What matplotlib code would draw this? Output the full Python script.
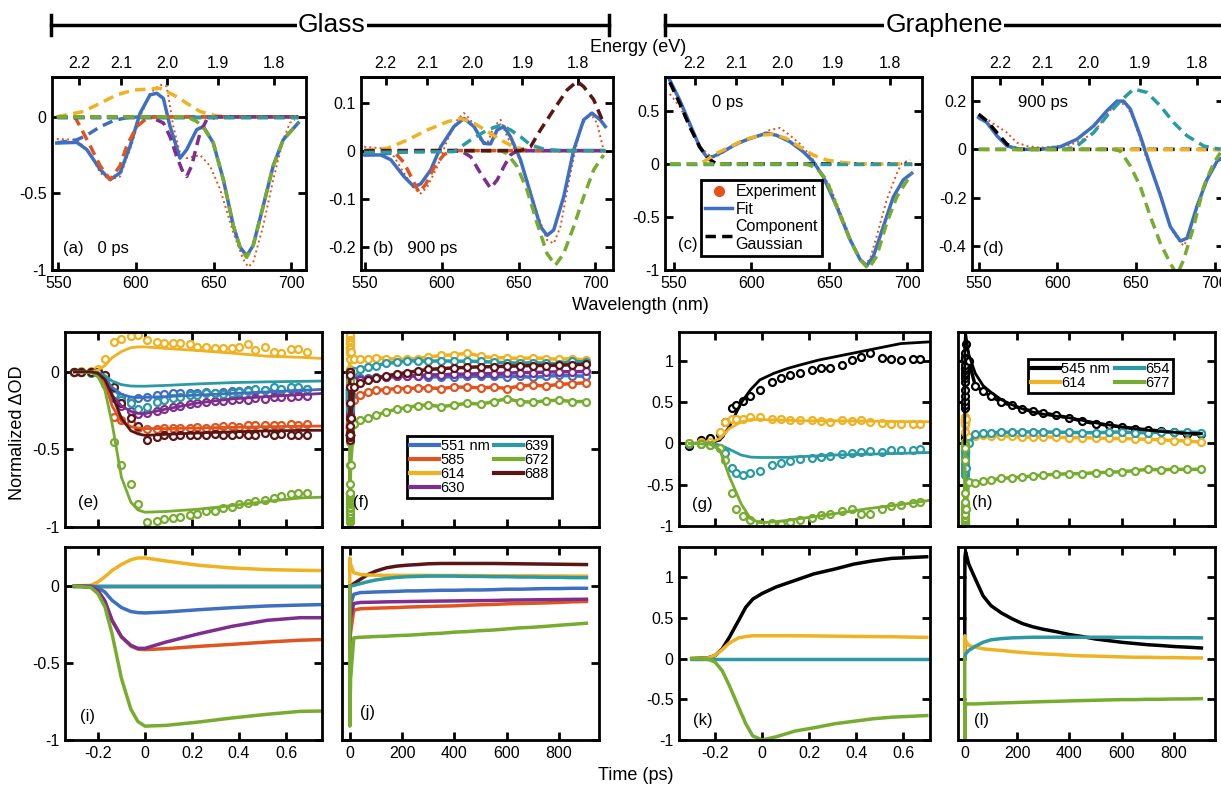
import numpy as np
import matplotlib
matplotlib.use("Agg")
import matplotlib.pyplot as plt
from matplotlib.ticker import FuncFormatter

plt.rcParams['font.family'] = ['Liberation Sans', 'DejaVu Sans']
plt.rcParams['axes.unicode_minus'] = False

W, H = 1221, 785

COL = {"545": "black", "551": "#3F6FC1", "585": "#DF5520", "614": "#EEB223",
       "630": "#7E2F8E", "639": "#2B9AA3", "654": "#2B9AA3", "672": "#77AC30",
       "677": "#77AC30", "688": "#5A1515"}
EXP_COL = "#E8501A"
FIT_COL = "#3F6FC1"

##################################### spectra (top row) #####################################

a_exp_wl = [549.1, 562.0, 570.6, 577.0, 583.4, 589.8, 596.3, 602.7, 609.1, 615.6, 619.8, 624.1, 628.4,
            632.7, 641.3, 647.7, 654.1, 662.7, 669.1, 672.3, 675.5, 682.0, 688.4, 694.8, 699.1, 702.3]
a_exp = [-0.145, -0.15, -0.236, -0.366, -0.41, -0.39, -0.21, 0.0, 0.154, 0.21, 0.2, -0.063, -0.236,
         -0.27, -0.25, -0.32, -0.47, -0.755, -0.93, -0.98, -0.95, -0.71, -0.41, -0.15, -0.04, -0.02]
a_fit_wl = [549.1, 562.0, 568.4, 577.0, 583.4, 589.8, 596.3, 602.7, 609.1, 613.4, 617.7, 622.0, 628.4,
            632.7, 639.1, 643.4, 649.8, 656.3, 662.7, 667.0, 671.3, 675.5, 682.0, 688.4, 694.8, 704.5]
a_fit = [-0.171, -0.167, -0.214, -0.344, -0.41, -0.366, -0.19, 0.024, 0.143, 0.154, 0.12, -0.063, -0.27,
         -0.214, -0.084, -0.063, -0.17, -0.41, -0.71, -0.85, -0.907, -0.84, -0.58, -0.32, -0.15, -0.04]
a_gauss = {
    "551": ([549.1, 562.0, 568.4, 577.0, 585.6, 594.1, 602.7, 704.5],
            [-0.17, -0.15, -0.12, -0.065, -0.025, -0.005, 0, 0]),
    "585": ([549.1, 560.9, 564.1, 570.6, 577.0, 583.4, 589.8, 594.1, 600.6, 607.0, 613.4, 704.5],
            [0, -0.005, -0.063, -0.19, -0.32, -0.41, -0.32, -0.19, -0.063, -0.01, 0, 0]),
    "614": ([549.1, 566.3, 577.0, 587.7, 598.4, 615.6, 626.3, 632.7, 641.3, 652.0, 662.7, 704.5],
            [0, 0.035, 0.089, 0.143, 0.175, 0.186, 0.132, 0.089, 0.035, 0.006, 0, 0]),
    "630": ([549.1, 609.1, 617.7, 622.0, 626.3, 630.5, 632.7, 635.9, 639.1, 641.3, 645.5, 652.0, 704.5],
            [0, 0, -0.04, -0.13, -0.26, -0.366, -0.39, -0.32, -0.19, -0.106, -0.02, 0, 0]),
    "688": ([549.1, 704.5], [0, 0]),
    "639": ([549.1, 704.5], [0, 0]),
    "672": ([549.1, 632.7, 639.1, 643.4, 649.8, 656.3, 662.7, 667.0, 671.3, 675.5, 682.0, 688.4, 694.8, 704.5],
            [0, 0, -0.03, -0.067, -0.17, -0.41, -0.71, -0.85, -0.918, -0.84, -0.58, -0.32, -0.15, -0.04]),
}

b_exp_wl = [549.6, 560.4, 569.0, 575.5, 582.0, 586.4, 590.7, 597.2, 603.7, 610.2, 614.5, 618.8, 625.3, 629.7,
            634.0, 638.3, 642.6, 649.1, 655.6, 662.1, 668.6, 672.9, 677.3, 683.8, 690.3, 696.8, 701.1, 705.4]
b_exp = [0.008, 0.005, -0.0125, -0.047, -0.078, -0.089, -0.075, -0.033, 0.022, 0.064, 0.078, 0.064, 0.022, 0.015,
         0.05, 0.064, 0.029, -0.006, -0.061, -0.13, -0.186, -0.193, -0.158, -0.047, 0.05, 0.078, 0.057, 0.001]
b_fit_wl = [549.6, 560.4, 566.9, 575.5, 582.0, 586.4, 592.9, 599.4, 608.0, 614.5, 621.0, 627.5, 631.8, 636.1,
            640.5, 644.8, 651.3, 657.8, 664.3, 668.6, 672.9, 679.4, 685.9, 692.4, 697.8, 703.2, 706.5]
b_fit = [-0.009, -0.009, -0.019, -0.054, -0.075, -0.069, -0.04, 0.008, 0.05, 0.067, 0.05, 0.015, 0.014, 0.043,
         0.05, 0.029, -0.019, -0.089, -0.158, -0.176, -0.165, -0.096, 0.001, 0.064, 0.078, 0.064, 0.05]
b_gauss = {
    "551": ([549.6, 564.7, 575.5, 586.4, 706.5], [-0.009, -0.006, -0.003, 0, 0]),
    "614": ([549.6, 564.7, 577.7, 590.7, 603.7, 612.3, 621.0, 629.7, 638.3, 647.0, 655.6, 672.9, 706.5],
            [0, 0.005, 0.022, 0.043, 0.06, 0.067, 0.057, 0.04, 0.022, 0.008, 0.001, 0, 0]),
    "585": ([549.6, 569.0, 575.5, 581.0, 585.3, 589.6, 595.0, 601.5, 608.0, 706.5],
            [0, -0.002, -0.025, -0.06, -0.087, -0.07, -0.035, -0.008, 0, 0]),
    "630": ([549.6, 612.3, 618.8, 625.3, 631.8, 636.1, 640.5, 644.8, 649.1, 706.5],
            [0, 0, -0.0125, -0.047, -0.078, -0.061, -0.033, -0.009, 0, 0]),
    "672": ([549.6, 638.3, 642.6, 649.1, 655.6, 662.1, 668.6, 674.0, 679.4, 685.9, 692.4, 698.9, 705.4],
            [0, 0, -0.006, -0.033, -0.082, -0.151, -0.214, -0.238, -0.214, -0.158, -0.096, -0.04, -0.009]),
    "688": ([549.6, 651.3, 657.8, 664.3, 672.9, 681.6, 688.1, 692.4, 698.9, 705.4],
            [0, 0, 0.008, 0.043, 0.085, 0.126, 0.144, 0.133, 0.106, 0.057]),
    "639": ([549.6, 608.0, 618.8, 629.7, 638.3, 644.8, 651.3, 657.8, 666.5, 677.3, 706.5],
            [-0.004, -0.002, 0.022, 0.043, 0.053, 0.043, 0.029, 0.012, 0.003, 0, 0]),
}

c_exp_wl = [547.6, 554.0, 560.4, 566.8, 573.3, 577.5, 586.1, 594.7, 605.4, 611.8, 618.3, 624.7, 631.1,
            637.5, 643.9, 650.4, 659.0, 665.4, 671.8, 676.1, 680.4, 686.8, 693.3, 696.5, 701.8]
c_exp = [0.66, 0.54, 0.35, 0.16, 0.08, 0.07, 0.147, 0.21, 0.27, 0.32, 0.34, 0.27, 0.19,
         0.084, -0.056, -0.21, -0.525, -0.775, -0.95, -0.9, -0.68, -0.34, -0.09, 0.006, 0.04]
c_fit_wl = [547.6, 554.0, 560.4, 566.8, 571.1, 575.4, 581.8, 590.4, 599.0, 609.7, 616.1, 624.7, 633.2,
            639.7, 646.1, 654.7, 663.2, 669.7, 674.0, 678.3, 684.7, 691.1, 697.5, 702.9]
c_fit = [0.79, 0.6, 0.38, 0.16, 0.069, 0.069, 0.116, 0.19, 0.24, 0.29, 0.27, 0.21, 0.116,
         0.022, -0.12, -0.4, -0.71, -0.9, -0.96, -0.87, -0.59, -0.31, -0.15, -0.088]
c_gauss = {
    "545": ([547.6, 554.0, 560.4, 566.8, 572.2, 577.5, 702.9], [0.77, 0.57, 0.35, 0.16, 0.053, 0, 0]),
    "614": ([547.6, 566.8, 571.1, 577.5, 586.1, 594.7, 605.4, 614.0, 622.5, 631.1, 639.7, 648.2, 659.0, 671.8, 702.9],
            [0, 0, 0.0375, 0.1, 0.16, 0.225, 0.27, 0.28, 0.24, 0.16, 0.084, 0.0375, 0.0125, 0, 0]),
    "654": ([547.6, 702.9], [0, 0]),
    "677": ([547.6, 635.4, 641.8, 648.2, 654.7, 663.2, 669.7, 675.1, 680.4, 686.8, 693.3, 702.9],
            [0, 0, -0.04, -0.15, -0.4, -0.71, -0.9, -0.99, -0.87, -0.56, -0.31, -0.088]),
}

d_exp_wl = [549.8, 555.1, 561.5, 567.9, 574.2, 580.6, 589.1, 597.6, 606.1, 614.5, 623.0, 629.4, 635.8, 640.0,
            644.2, 648.5, 652.7, 657.0, 661.2, 665.5, 669.7, 674.0, 680.3, 682.5, 688.8, 695.2, 701.6]
d_exp = [0.125, 0.125, 0.097, 0.069, 0.028, 0.014, 0.007, 0.011, 0.014, 0.035, 0.069, 0.125, 0.18, 0.194,
         0.18, 0.125, 0.042, -0.042, -0.11, -0.18, -0.28, -0.35, -0.4, -0.375, -0.236, -0.125, -0.056]
d_fit_wl = [549.8, 555.1, 561.5, 567.9, 576.4, 589.1, 601.8, 612.4, 623.0, 631.5, 637.9, 642.1, 646.4, 652.7,
            659.1, 665.5, 671.8, 678.2, 682.5, 688.8, 695.2, 701.6, 704.8]
d_fit = [0.132, 0.111, 0.056, 0.014, 0, 0, 0.011, 0.042, 0.097, 0.16, 0.2, 0.2, 0.167, 0.056,
         -0.069, -0.19, -0.32, -0.38, -0.368, -0.236, -0.125, -0.049, -0.035]
d_gauss = {
    "545": ([549.8, 555.1, 561.5, 567.9, 574.2, 704.8], [0.146, 0.118, 0.069, 0.021, 0, 0]),
    "614": ([549.8, 704.8], [0, 0]),
    "654": ([549.8, 606.1, 612.4, 623.0, 631.5, 640.0, 648.5, 657.0, 665.5, 674.0, 682.5, 693.1, 703.7],
            [0, 0, 0.014, 0.069, 0.139, 0.2, 0.25, 0.236, 0.18, 0.111, 0.056, 0.014, 0]),
    "677": ([549.8, 635.8, 640.0, 646.4, 652.7, 659.1, 665.5, 671.8, 676.1, 680.3, 686.7, 693.1, 699.5, 703.7],
            [0, 0, -0.007, -0.069, -0.153, -0.278, -0.389, -0.472, -0.52, -0.458, -0.32, -0.153, -0.056, -0.014]),
}

##################################### kinetics #####################################

# glass, early times
t_gs = [-0.30, -0.27, -0.23, -0.20, -0.17, -0.13, -0.10, -0.06, -0.03, 0.01, 0.05, 0.08, 0.12, 0.15, 0.19,
        0.22, 0.26, 0.30, 0.33, 0.37, 0.40, 0.44, 0.47, 0.51, 0.55, 0.58, 0.62, 0.65, 0.69]
e_scat = {
    "551": [0, 0, 0, 0, -0.03, -0.14, -0.16, -0.18, -0.17, -0.16, -0.15, -0.145, -0.14, -0.14, -0.14, -0.135,
            -0.13, -0.135, -0.13, -0.125, -0.125, -0.12, -0.125, -0.12, -0.115, -0.12, -0.11, -0.115, -0.11],
    "585": [0, 0, 0, -0.01, -0.08, -0.29, -0.31, -0.33, -0.36, -0.37, -0.37, -0.365, -0.36, -0.36, -0.36, -0.355,
            -0.36, -0.355, -0.35, -0.35, -0.355, -0.345, -0.34, -0.345, -0.34, -0.345, -0.335, -0.34, -0.335],
    "614": [0, 0.005, 0.005, 0.02, 0.08, 0.19, 0.21, 0.23, 0.235, 0.205, 0.19, 0.185, 0.185, 0.185, 0.18, 0.16,
            0.16, 0.15, 0.15, 0.155, 0.16, 0.18, 0.14, 0.16, 0.13, 0.12, 0.145, 0.145, 0.13],
    "630": [0, 0, 0, 0, -0.04, -0.17, -0.22, -0.25, -0.27, -0.265, -0.25, -0.24, -0.23, -0.22, -0.21, -0.2,
            -0.195, -0.19, -0.19, -0.18, -0.175, -0.18, -0.17, -0.175, -0.165, -0.16, -0.16, -0.155, -0.155],
    "639": [0, 0, -0.005, 0, -0.03, -0.15, -0.18, -0.2, -0.237, -0.226, -0.194, -0.183, -0.172, -0.162, -0.151,
            -0.151, -0.14, -0.14, -0.144, -0.136, -0.13, -0.123, -0.114, -0.118, -0.101, -0.114, -0.101, -0.101, -0.108],
    "672": [0, 0, 0, 0, -0.06, -0.45, -0.6, -0.72, -0.85, -0.97, -0.96, -0.95, -0.94, -0.935, -0.925, -0.915,
            -0.9, -0.895, -0.875, -0.87, -0.855, -0.845, -0.83, -0.825, -0.81, -0.8, -0.79, -0.78, -0.78],
    "688": [0, 0, 0, 0, -0.02, -0.1, -0.2, -0.3, -0.35, -0.44, -0.42, -0.41, -0.415, -0.41, -0.41, -0.405,
            -0.41, -0.4, -0.41, -0.405, -0.4, -0.405, -0.41, -0.395, -0.41, -0.4, -0.41, -0.41, -0.41],
}
t_gf = [-0.30, -0.23, -0.20, -0.17, -0.14, -0.10, -0.06, -0.03, 0.0, 0.09, 0.23, 0.37, 0.52, 0.66, 0.75]
e_fit = {
    "551": [0, 0, -0.005, -0.04, -0.1, -0.145, -0.163, -0.166, -0.165, -0.16, -0.15, -0.14, -0.13, -0.12, -0.114],
    "585": [0, 0, -0.015, -0.07, -0.22, -0.32, -0.355, -0.362, -0.366, -0.366, -0.362, -0.358, -0.354, -0.351, -0.35],
    "614": [0, 0, 0.01, 0.04, 0.09, 0.13, 0.155, 0.16, 0.16, 0.15, 0.136, 0.12, 0.1, 0.093, 0.086],
    "630": [0, 0, -0.01, -0.05, -0.15, -0.22, -0.255, -0.268, -0.27, -0.24, -0.2, -0.175, -0.16, -0.148, -0.14],
    "639": [0, 0, -0.005, -0.025, -0.06, -0.083, -0.092, -0.093, -0.093, -0.088, -0.078, -0.07, -0.065, -0.062, -0.06],
    "672": [0, -0.005, -0.03, -0.12, -0.33, -0.68, -0.84, -0.89, -0.905, -0.9, -0.885, -0.862, -0.835, -0.813, -0.808],
    "688": [0, 0, -0.01, -0.05, -0.15, -0.3, -0.38, -0.4, -0.41, -0.403, -0.394, -0.387, -0.381, -0.378, -0.377],
}
i_comp = {
    "688": [0, 0, 0, 0, 0, 0, 0, 0, 0, 0, 0, 0, 0, 0, 0],
    "614": [0, 0.004, 0.026, 0.06, 0.1, 0.14, 0.17, 0.182, 0.182, 0.162, 0.134, 0.117, 0.106, 0.102, 0.1],
    "639": [0, 0, 0, 0, 0, 0, 0, 0, 0, 0, 0, 0, 0, 0, 0],
    "551": [0, 0, -0.01, -0.04, -0.093, -0.14, -0.166, -0.173, -0.175, -0.169, -0.154, -0.141, -0.13, -0.124, -0.121],
    "585": [0, -0.005, -0.03, -0.1, -0.223, -0.33, -0.39, -0.41, -0.413, -0.407, -0.392, -0.379, -0.364, -0.352, -0.348],
    "630": [0, -0.005, -0.03, -0.1, -0.223, -0.33, -0.385, -0.405, -0.405, -0.364, -0.31, -0.262, -0.223, -0.206, -0.206],
    "672": [0, -0.01, -0.05, -0.136, -0.31, -0.6, -0.8, -0.88, -0.91, -0.905, -0.883, -0.857, -0.833, -0.814, -0.812],
}

# glass + graphene, long times
t_ss = [3, 15, 40, 70, 100, 140, 180, 220, 260, 300, 350, 400, 450, 500, 550, 600, 650, 700, 750, 800, 850, 905]
f_scat = {
    "551": [-0.1, -0.048, -0.042, -0.038, -0.033, -0.033, -0.029, -0.026, -0.03, -0.033, -0.033, -0.033, -0.029,
            -0.029, -0.029, -0.033, -0.029, -0.037, -0.029, -0.024, -0.026, -0.029],
    "585": [-0.3, -0.18, -0.148, -0.13, -0.12, -0.115, -0.108, -0.108, -0.104, -0.104, -0.108, -0.099, -0.099,
            -0.104, -0.099, -0.108, -0.092, -0.086, -0.092, -0.081, -0.077, -0.07],
    "614": [0.13, 0.085, 0.08, 0.085, 0.09, 0.085, 0.08, 0.08, 0.085, 0.095, 0.105, 0.11, 0.12, 0.1, 0.09, 0.09,
            0.085, 0.09, 0.085, 0.08, 0.085, 0.075],
    "630": [-0.15, -0.06, -0.05, -0.045, -0.04, -0.035, -0.03, -0.028, -0.025, -0.02, -0.02, -0.016, -0.016,
            -0.012, -0.012, -0.01, -0.005, -0.005, -0.003, 0, 0, 0.002],
    "639": [-0.15, 0.005, 0.015, 0.03, 0.04, 0.055, 0.06, 0.07, 0.07, 0.068, 0.07, 0.068, 0.068, 0.066, 0.062,
            0.058, 0.055, 0.058, 0.055, 0.05, 0.068, 0.062],
    "672": [-0.6, -0.335, -0.313, -0.297, -0.28, -0.258, -0.24, -0.231, -0.218, -0.214, -0.225, -0.214, -0.203,
            -0.209, -0.192, -0.174, -0.192, -0.196, -0.187, -0.183, -0.192, -0.192],
    "688": [-0.3, -0.1, -0.07, -0.055, -0.042, -0.026, -0.015, -0.005, 0.005, 0.015, 0.02, 0.025, 0.028, 0.032,
            0.033, 0.035, 0.038, 0.04, 0.04, 0.042, 0.045, 0.048],
}
j_comp = {
    "688": [0.004, 0.015, 0.043, 0.075, 0.097, 0.118, 0.129, 0.135, 0.139, 0.144, 0.146, 0.146, 0.146, 0.146,
            0.146, 0.145, 0.144, 0.143, 0.142, 0.141, 0.14, 0.139],
    "614": [0.14, 0.086, 0.075, 0.071, 0.07, 0.069, 0.069, 0.069, 0.069, 0.069, 0.068, 0.068, 0.068, 0.067,
            0.067, 0.066, 0.066, 0.066, 0.065, 0.065, 0.064, 0.064],
    "639": [0.0, 0.004, 0.015, 0.028, 0.039, 0.049, 0.056, 0.06, 0.062, 0.064, 0.064, 0.064, 0.062, 0.062,
            0.06, 0.06, 0.058, 0.058, 0.056, 0.056, 0.054, 0.054],
    "551": [-0.12, -0.054, -0.043, -0.041, -0.039, -0.037, -0.035, -0.032, -0.032, -0.03, -0.028, -0.028,
            -0.026, -0.026, -0.024, -0.021, -0.021, -0.019, -0.017, -0.017, -0.015, -0.015],
    "585": [-0.3, -0.157, -0.148, -0.146, -0.144, -0.142, -0.14, -0.137, -0.135, -0.133, -0.131, -0.129, -0.125,
            -0.122, -0.12, -0.116, -0.114, -0.112, -0.11, -0.107, -0.103, -0.101],
    "630": [-0.2, -0.114, -0.107, -0.106, -0.105, -0.103, -0.102, -0.101, -0.1, -0.099, -0.098, -0.097, -0.096,
            -0.095, -0.094, -0.092, -0.091, -0.09, -0.089, -0.088, -0.087, -0.086],
    "672": [-0.6, -0.337, -0.333, -0.331, -0.328, -0.326, -0.322, -0.32, -0.316, -0.311, -0.307, -0.3, -0.296,
            -0.29, -0.286, -0.279, -0.272, -0.268, -0.262, -0.255, -0.249, -0.242],
}

# graphene, early times
t_grs = [-0.31, -0.26, -0.22, -0.18, -0.16, -0.13, -0.11, -0.08, -0.05, -0.01, 0.04, 0.08, 0.12, 0.16, 0.21,
         0.25, 0.29, 0.34, 0.38, 0.42, 0.46, 0.51, 0.55, 0.59, 0.64, 0.67]
g_scat = {
    "545": [-0.03, 0.04, 0.06, 0.12, 0.26, 0.43, 0.47, 0.51, 0.57, 0.65, 0.75, 0.79, 0.83, 0.85, 0.89, 0.91,
            0.91, 0.95, 1.01, 1.05, 1.09, 1.03, 1.02, 1.01, 1.02, 1.02],
    "614": [0, 0.02, 0.02, 0.14, 0.26, 0.3, 0.3, 0.3, 0.32, 0.32, 0.3, 0.3, 0.29, 0.28, 0.28, 0.27, 0.26, 0.28,
            0.27, 0.28, 0.26, 0.25, 0.24, 0.24, 0.24, 0.235],
    "654": [-0.01, -0.01, -0.02, -0.06, -0.12, -0.3, -0.36, -0.38, -0.36, -0.33, -0.26, -0.24, -0.21, -0.19,
            -0.18, -0.16, -0.15, -0.13, -0.12, -0.1, -0.09, -0.1, -0.085, -0.08, -0.075, -0.07],
    "677": [0, -0.01, -0.02, -0.06, -0.2, -0.6, -0.8, -0.88, -0.93, -0.97, -0.96, -0.97, -0.95, -0.93, -0.9,
            -0.87, -0.85, -0.82, -0.8, -0.85, -0.85, -0.79, -0.76, -0.74, -0.72, -0.71],
}
t_grf = [-0.31, -0.22, -0.18, -0.14, -0.09, -0.05, -0.01, 0.05, 0.11, 0.16, 0.24, 0.31, 0.38, 0.45, 0.52, 0.59, 0.71]
g_fit = {
    "545": [0, 0.01, 0.04, 0.2, 0.49, 0.65, 0.77, 0.85, 0.91, 0.95, 1.01, 1.05, 1.09, 1.13, 1.17, 1.21, 1.23],
    "614": [0, 0.01, 0.06, 0.18, 0.26, 0.29, 0.29, 0.285, 0.28, 0.275, 0.275, 0.275, 0.272, 0.27, 0.268, 0.265, 0.263],
    "654": [0, 0, -0.02, -0.07, -0.14, -0.165, -0.17, -0.17, -0.168, -0.16, -0.15, -0.14, -0.135, -0.13, -0.125, -0.12, -0.11],
    "677": [0, -0.01, -0.08, -0.4, -0.73, -0.91, -0.96, -0.95, -0.93, -0.91, -0.88, -0.85, -0.82, -0.79, -0.765, -0.74, -0.69],
}
t_grc = [-0.30, -0.23, -0.20, -0.17, -0.14, -0.10, -0.07, -0.04, 0.0, 0.06, 0.14, 0.22, 0.31, 0.39, 0.47, 0.55, 0.70]
k_comp = {
    "545": [0, 0.01, 0.037, 0.12, 0.26, 0.47, 0.63, 0.73, 0.8, 0.88, 0.96, 1.04, 1.1, 1.16, 1.2, 1.23, 1.25],
    "614": [0, 0.008, 0.04, 0.11, 0.19, 0.255, 0.27, 0.28, 0.28, 0.28, 0.28, 0.278, 0.275, 0.272, 0.27, 0.268, 0.26],
    "654": [0, 0, 0, 0, 0, 0, 0, 0, 0, 0, 0, 0, 0, 0, 0, 0, 0],
    "677": [0, -0.008, -0.045, -0.15, -0.33, -0.6, -0.8, -0.95, -1.0, -0.96, -0.89, -0.85, -0.8, -0.77, -0.74, -0.72, -0.7],
}
h_scat = {
    "545": [1.2, 1.0, 0.7, 0.63, 0.57, 0.5, 0.46, 0.42, 0.39, 0.37, 0.34, 0.31, 0.27, 0.24, 0.22, 0.2, 0.18,
            0.165, 0.15, 0.135, 0.12, 0.11],
    "614": [0.3, 0.08, 0.09, 0.1, 0.095, 0.09, 0.085, 0.08, 0.075, 0.08, 0.075, 0.07, 0.07, 0.065, 0.06, 0.06,
            0.055, 0.05, 0.045, 0.035, 0.03, 0.015],
    "654": [-0.3, 0.0, 0.11, 0.125, 0.13, 0.135, 0.135, 0.14, 0.14, 0.14, 0.135, 0.135, 0.13, 0.13, 0.135, 0.14,
            0.13, 0.13, 0.135, 0.135, 0.14, 0.13],
    "677": [-0.8, -0.47, -0.475, -0.455, -0.443, -0.423, -0.415, -0.407, -0.394, -0.382, -0.374, -0.366, -0.366,
            -0.354, -0.35, -0.341, -0.33, -0.313, -0.32, -0.313, -0.315, -0.313],
}
h_fit_545 = [1.33, 1.08, 0.85, 0.7, 0.62, 0.53, 0.47, 0.42, 0.38, 0.355, 0.33, 0.31, 0.28, 0.25, 0.225, 0.2,
             0.18, 0.16, 0.145, 0.135, 0.125, 0.12]
l_comp = {
    "545": [1.31, 1.16, 0.98, 0.77, 0.65, 0.56, 0.49, 0.43, 0.39, 0.36, 0.33, 0.295, 0.27, 0.24, 0.22, 0.2,
            0.185, 0.17, 0.16, 0.148, 0.14, 0.13],
    "614": [0.22, 0.16, 0.14, 0.12, 0.11, 0.1, 0.086, 0.074, 0.066, 0.057, 0.05, 0.04, 0.033, 0.03, 0.025, 0.02,
            0.016, 0.016, 0.012, 0.012, 0.008, 0.008],
    "654": [0.057, 0.1, 0.15, 0.2, 0.23, 0.245, 0.254, 0.258, 0.262, 0.262, 0.262, 0.262, 0.262, 0.262, 0.262,
            0.26, 0.26, 0.258, 0.258, 0.256, 0.256, 0.254],
    "677": [-0.557, -0.557, -0.557, -0.553, -0.549, -0.545, -0.541, -0.537, -0.533, -0.529, -0.525, -0.52, -0.516,
            -0.512, -0.508, -0.504, -0.504, -0.5, -0.5, -0.496, -0.496, -0.492],
}

##################################### helpers #####################################

fig = plt.figure(figsize=(W / 100, H / 100), dpi=100)


def add_ax(x0, y0, x1, y1):
    return fig.add_axes([x0 / W, 1 - y1 / H, (x1 - x0) / W, (y1 - y0) / H])


def fmt(v, p):
    return "%g" % v


def style(ax, xticks, yticks, xlab=True, ylab=True, top=True):
    for s in ax.spines.values():
        s.set_linewidth(2)
    ax.tick_params(direction="in", length=6, width=2, labelsize=11.5, top=top, right=True, pad=4,
                   labelbottom=xlab, labelleft=ylab)
    ax.set_xticks(xticks)
    ax.set_yticks(yticks)
    ax.xaxis.set_major_formatter(FuncFormatter(fmt))
    ax.yaxis.set_major_formatter(FuncFormatter(fmt))


def to_ev(w):
    w = np.asarray(w, dtype=float)
    with np.errstate(divide="ignore"):
        return 1239.84 / w


def spectrum(ax, exp_wl, exp, fit_wl, fit, gauss, xlim, ylim, yticks):
    ax.plot(exp_wl, exp, ls=":", color=EXP_COL, lw=1.4)
    ax.plot(fit_wl, fit, color=FIT_COL, lw=2.5)
    for k, (x, y) in gauss.items():
        ax.plot(x, y, color=COL[k], lw=2.5, dashes=(3, 1.8))
    ax.set_xlim(xlim)
    ax.set_ylim(ylim)
    style(ax, [550, 600, 650, 700], yticks, top=False)
    sec = ax.secondary_xaxis("top", functions=(to_ev, to_ev))
    sec.set_xticks([2.2, 2.1, 2.0, 1.9, 1.8])
    sec.set_xticklabels(["2.2", "2.1", "2.0", "1.9", "1.8"])
    sec.tick_params(direction="in", length=6, width=2, labelsize=11.5, pad=4)
    sec.spines["top"].set_linewidth(2)


def ptext(x, y, s, size=12, **kw):
    fig.text(x / W, 1 - y / H, s, fontsize=size, va="center", **kw)


##################################### top row #####################################

ax_a = add_ax(52, 77, 306, 270)
spectrum(ax_a, a_exp_wl, a_exp, a_fit_wl, a_fit, a_gauss, (546, 709.5), (-1, 0.26), [-1, -0.5, 0])
ax_b = add_ax(361, 77, 613, 270)
spectrum(ax_b, b_exp_wl, b_exp, b_fit_wl, b_fit, b_gauss, (547.5, 711.5), (-0.248, 0.153), [-0.2, -0.1, 0, 0.1])
ax_c = add_ax(665, 77, 922, 270)
spectrum(ax_c, c_exp_wl, c_exp, c_fit_wl, c_fit, c_gauss, (544.5, 709.5), (-1, 0.82), [-1, -0.5, 0, 0.5])
ax_d = add_ax(972, 77, 1224, 270)
spectrum(ax_d, d_exp_wl, d_exp, d_fit_wl, d_fit, d_gauss, (545.6, 706), (-0.5, 0.3), [-0.4, -0.2, 0, 0.2])

h1, = ax_c.plot([], [], "o", color=EXP_COL, ms=7)
h2, = ax_c.plot([], [], color=FIT_COL, lw=2.5)
h3, = ax_c.plot([], [], color="black", lw=2.5, dashes=(3, 1.8))
leg = ax_c.legend([h1, h2, h3], ["Experiment", "Fit", "Component\nGaussian"], loc="lower left",
                  bbox_to_anchor=(0.14, 0.075), fontsize=11.5, frameon=True, fancybox=False,
                  edgecolor="black", framealpha=1, borderpad=0.25, labelspacing=0.15,
                  handlelength=1.7, handletextpad=0.2, borderaxespad=0)
leg.get_frame().set_linewidth(2)

ptext(63, 248, "(a)   0 ps")
ptext(373, 248, "(b)   900 ps")
ptext(712, 103, "0 ps")
ptext(678, 245, "(c)")
ptext(1018, 102, "900 ps")
ptext(983, 248, "(d)")

##################################### kinetics rows #####################################

ax_e = add_ax(65, 332, 322, 527)
ax_f = add_ax(342, 332, 599, 527)
ax_g = add_ax(679, 332, 930, 526)
ax_h = add_ax(958, 332, 1215, 526)
ax_i = add_ax(65, 547, 322, 740)
ax_j = add_ax(342, 547, 599, 740)
ax_k = add_ax(679, 547, 930, 740)
ax_l = add_ax(958, 547, 1215, 740)

mk = dict(marker="o", ms=5, mew=1.6, mfc="white")

for k in ["551", "585", "614", "630", "639", "672", "688"]:
    ax_e.plot(t_gs, e_scat[k], ls="none", color=COL[k], **mk)
for k in ["551", "585", "614", "630", "639", "672", "688"]:
    ax_e.plot(t_gf, e_fit[k], color=COL[k], lw=2)

for k in ["551", "585", "614", "630", "639", "672", "688"]:
    ax_f.plot(t_gs + t_ss, e_scat[k] + f_scat[k], color=COL[k], lw=2.5, label=k if k != "551" else "551 nm", **mk)

for k in i_comp:
    ax_i.plot(t_gf, i_comp[k], color=COL[k], lw=2.5)
    ax_j.plot(t_gf + t_ss, i_comp[k] + j_comp[k], color=COL[k], lw=2.5)

for k in ["545", "614", "654", "677"]:
    ax_g.plot(t_grs, g_scat[k], ls="none", color=COL[k], **mk)
    ax_g.plot(t_grf, g_fit[k], color=COL[k], lw=2)
    ax_h.plot(t_grs + t_ss, g_scat[k] + h_scat[k], color=COL[k], lw=2.5,
              label=k if k != "545" else "545 nm", **mk)
ax_h.plot(t_grf + t_ss, g_fit["545"] + h_fit_545, color="black", lw=2)

for k in ["545", "614", "654", "677"]:
    ax_k.plot(t_grc, k_comp[k], color=COL[k], lw=2.5)
    ax_l.plot(t_grc + t_ss, k_comp[k] + l_comp[k], color=COL[k], lw=2.5)

fast_ticks = [-0.2, 0, 0.2, 0.4, 0.6]
slow_ticks = [0, 200, 400, 600, 800]
glass_y = [-1, -0.5, 0]
gr_y = [-1, -0.5, 0, 0.5, 1]

for ax, xl, yl, xt, yt, xlab, ylab in [
        (ax_e, (-0.34, 0.753), (-1, 0.256), fast_ticks, glass_y, False, True),
        (ax_f, (-30, 953), (-1, 0.256), slow_ticks, glass_y, False, False),
        (ax_i, (-0.34, 0.753), (-1, 0.253), fast_ticks, glass_y, True, True),
        (ax_j, (-30, 953), (-1, 0.253), slow_ticks, glass_y, True, False),
        (ax_g, (-0.354, 0.714), (-1, 1.35), fast_ticks, gr_y, False, True),
        (ax_h, (-26, 957), (-1, 1.35), slow_ticks, gr_y, False, False),
        (ax_k, (-0.354, 0.714), (-1, 1.37), fast_ticks, gr_y, True, True),
        (ax_l, (-26, 957), (-1, 1.37), slow_ticks, gr_y, True, False)]:
    ax.set_xlim(xl)
    ax.set_ylim(yl)
    style(ax, xt, yt, xlab, ylab)

lf = ax_f.legend(loc="lower left", bbox_to_anchor=(0.253, 0.149), ncol=2, fontsize=10.5, frameon=True,
                 fancybox=False, edgecolor="black", framealpha=1, borderpad=0.2, labelspacing=0.0,
                 handlelength=2.0, handletextpad=0.1, columnspacing=0.3, borderaxespad=0, markerscale=0)
lf.get_frame().set_linewidth(2)
lh = ax_h.legend(loc="upper left", bbox_to_anchor=(0.272, 0.861), ncol=2, fontsize=10.5, frameon=True,
                 fancybox=False, edgecolor="black", framealpha=1, borderpad=0.2, labelspacing=0.0,
                 handlelength=2.0, handletextpad=0.1, columnspacing=0.3, borderaxespad=0, markerscale=0)
lh.get_frame().set_linewidth(2)
for lg in (lf, lh):
    for ln in lg.get_lines():
        ln.set_marker("")
        ln.set_linewidth(3)

for x, y, s in [(78, 503, "(e)"), (353, 502, "(f)"), (692, 504, "(g)"), (972, 503, "(h)"),
                (80, 717, "(i)"), (360, 713, "(j)"), (693, 720, "(k)"), (974, 720, "(l)")]:
    ptext(x, y, s)

##################################### labels and headers #####################################

ptext(638, 48, "Energy (eV)", size=13, ha="center")
ptext(640, 306, "Wavelength (nm)", size=13, ha="center")
ptext(636, 776, "Time (ps)", size=13, ha="center")
fig.text(18 / W, 1 - 433 / H, "Normalized ΔOD", fontsize=13, rotation=90, ha="center", va="center")

for x0, x1, xc, name in [(51, 609, 332, "Glass"), (665, 1225, 944, "Graphene")]:
    fig.add_artist(plt.Line2D([x0 / W, x1 / W], [1 - 25 / H] * 2, color="black", lw=2.5))
    for xe in (x0, x1):
        fig.add_artist(plt.Line2D([xe / W] * 2, [1 - 15 / H, 1 - 35 / H], color="black", lw=2.5))
    fig.text(xc / W, 1 - 25 / H, name, fontsize=19, ha="center", va="center",
             bbox=dict(facecolor="white", edgecolor="none", pad=0.5))

fig.savefig("out.png", dpi=100)
